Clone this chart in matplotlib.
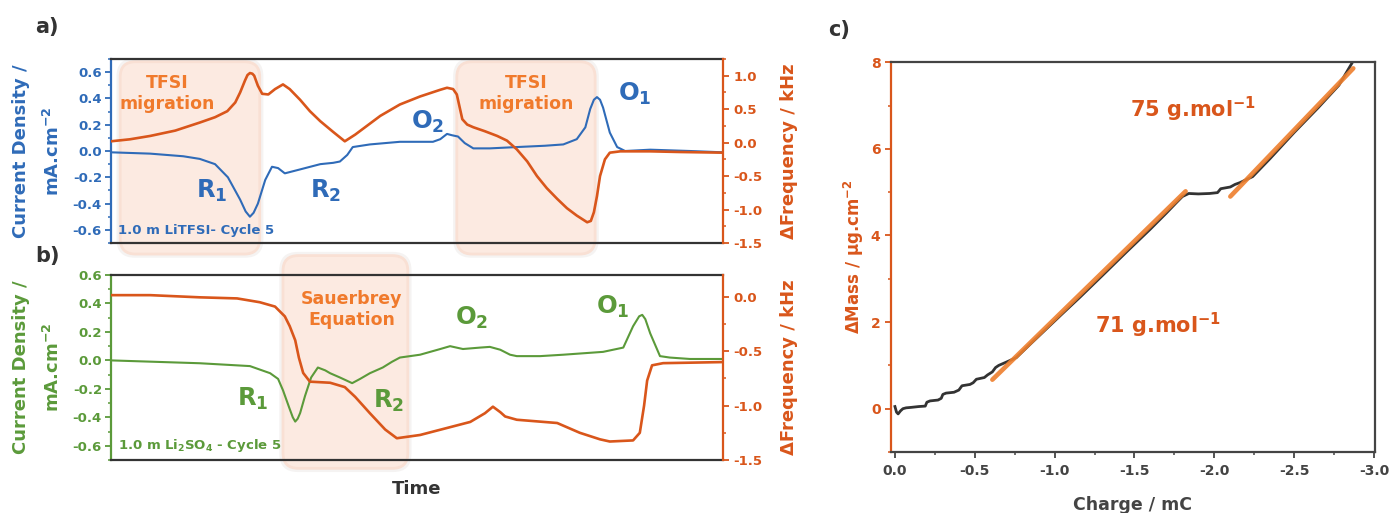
import matplotlib
matplotlib.use('Agg')
import matplotlib.pyplot as plt
import matplotlib.transforms as mtransforms
from matplotlib.patches import FancyBboxPatch
from matplotlib.ticker import MultipleLocator, FormatStrFormatter

plt.rcParams['font.family'] = 'DejaVu Sans'
plt.rcParams['font.weight'] = 'bold'
plt.rcParams['axes.labelweight'] = 'bold'
plt.rcParams['mathtext.default'] = 'bf'
plt.rcParams['axes.unicode_minus'] = False

# ---- panel a : 1.0 m LiTFSI (time in arbitrary units 0-100)
t_a_cur = [0.0, 6.4, 11.8, 14.5, 17.0, 19.1, 21.1, 22.0, 22.7, 23.3, 24.0, 25.2, 26.3, 27.3, 28.4, 30.9,
           34.2, 36.3, 37.4, 38.6, 39.5, 42.3, 47.2, 52.6, 53.8, 54.9, 55.7, 56.7, 57.8, 59.2,
           61.9, 66.3, 70.9, 73.9, 76.1, 77.5, 78.3, 78.9, 79.4, 79.9, 80.4, 81.5, 82.7, 84.0, 88.1, 94.6, 100]
j_a = [-0.01, -0.02, -0.04, -0.06, -0.10, -0.20, -0.37, -0.46, -0.50, -0.47, -0.40, -0.22, -0.12, -0.13, -0.17, -0.14,
       -0.10, -0.09, -0.08, -0.03, 0.03, 0.05, 0.07, 0.07, 0.09, 0.13, 0.12, 0.11, 0.06, 0.02,
       0.02, 0.03, 0.04, 0.05, 0.09, 0.18, 0.32, 0.39, 0.41, 0.39, 0.33, 0.14, 0.03, 0.00, 0.01, 0.00, -0.01]

t_a_freq = [0.0, 3.1, 6.4, 10.5, 14.5, 17.0, 19.0, 20.3, 21.1, 21.9, 22.3, 22.7, 23.1, 23.4, 24.0, 24.7, 25.7,
            26.8, 28.1, 29.2, 30.9, 32.5, 34.2, 36.3, 38.2, 39.9, 44.0, 47.2, 50.5, 53.8, 54.9,
            55.9, 56.5, 57.4, 58.2, 59.2, 61.1, 63.1, 64.7, 66.3, 68.0, 69.6, 71.2, 72.9, 74.5,
            76.1, 77.8, 78.4, 78.9, 79.4, 79.9, 80.7, 81.5, 83.2, 88.1, 93.0, 100]
f_a = [0.02, 0.05, 0.10, 0.18, 0.30, 0.38, 0.47, 0.60, 0.75, 0.93, 1.01, 1.04, 1.03, 1.00, 0.85, 0.73, 0.72,
       0.80, 0.87, 0.80, 0.64, 0.47, 0.32, 0.16, 0.02, 0.12, 0.40, 0.57, 0.69, 0.79, 0.82,
       0.80, 0.72, 0.35, 0.27, 0.23, 0.17, 0.10, 0.03, -0.10, -0.28, -0.50, -0.68, -0.84, -0.98,
       -1.09, -1.19, -1.17, -1.04, -0.80, -0.50, -0.25, -0.15, -0.13, -0.13, -0.14, -0.15]

# ---- panel b : 1.0 m Li2SO4
t_b_cur = [0.0, 14.5, 22.7, 26.0, 27.3, 28.1, 29.1, 29.7, 30.1, 30.5, 30.9, 31.7, 32.7, 33.8, 35.0, 35.8,
           37.4, 39.4, 40.7, 42.3, 44.4, 45.9, 47.2, 50.5, 53.8, 55.4, 57.5, 60.3, 61.9, 63.6,
           65.2, 66.3, 70.1, 73.9, 80.4, 83.7, 85.3, 86.3, 86.8, 87.3, 88.1, 89.7, 91.3, 94.6, 100]
j_b = [0.0, -0.02, -0.04, -0.09, -0.13, -0.21, -0.33, -0.40, -0.43, -0.41, -0.37, -0.25, -0.12, -0.05, -0.07, -0.09,
       -0.12, -0.16, -0.13, -0.09, -0.05, -0.01, 0.02, 0.04, 0.08, 0.10, 0.08, 0.09, 0.095, 0.075,
       0.04, 0.03, 0.03, 0.04, 0.06, 0.09, 0.24, 0.31, 0.32, 0.29, 0.19, 0.03, 0.02, 0.01, 0.01]

t_b_freq = [0.0, 6.4, 14.5, 20.6, 24.3, 26.8, 28.4, 29.2, 30.1, 30.7, 31.4, 32.5, 35.8, 38.2,
            39.9, 42.3, 44.8, 46.7, 50.5, 54.6, 58.7, 61.1, 62.4, 63.6, 64.4, 66.3, 72.9, 76.6,
            79.9, 81.5, 85.3, 86.4, 87.1, 87.6, 88.4, 90.2, 100]
f_b = [0.015, 0.015, -0.005, -0.015, -0.05, -0.09, -0.18, -0.27, -0.40, -0.56, -0.70, -0.78, -0.79, -0.83,
       -0.92, -1.07, -1.22, -1.30, -1.27, -1.21, -1.15, -1.07, -1.01, -1.06, -1.10, -1.13, -1.16, -1.25,
       -1.31, -1.33, -1.32, -1.25, -1.00, -0.77, -0.63, -0.61, -0.60]

# ---- panel c : mass vs charge
q_c = [0.0, -0.01, -0.02, -0.035, -0.05, -0.07, -0.10, -0.15, -0.19, -0.20, -0.22, -0.27, -0.29, -0.30,
       -0.32, -0.37, -0.40, -0.42, -0.47, -0.49, -0.51, -0.56, -0.58, -0.61, -0.63, -0.65, -0.70,
       -0.76, -0.85, -0.95, -1.05, -1.16, -1.30, -1.45, -1.60, -1.70, -1.76, -1.80, -1.84, -1.90,
       -1.97, -2.02, -2.04, -2.10, -2.13, -2.16, -2.24, -2.35, -2.50, -2.65, -2.78, -2.86]
m_c = [0.05, -0.08, -0.12, -0.05, 0.0, 0.02, 0.03, 0.05, 0.06, 0.15, 0.18, 0.20, 0.24, 0.33,
       0.36, 0.38, 0.43, 0.53, 0.56, 0.60, 0.68, 0.72, 0.78, 0.85, 0.95, 1.00, 1.08,
       1.18, 1.50, 1.85, 2.20, 2.58, 3.08, 3.62, 4.15, 4.52, 4.75, 4.90, 4.97, 4.96,
       4.97, 4.99, 5.08, 5.12, 5.18, 5.22, 5.36, 5.78, 6.38, 6.95, 7.47, 7.97]
fit1_q = [-0.61, -1.82]
fit1_m = [0.67, 5.02]
fit2_q = [-2.10, -2.87]
fit2_m = [4.90, 7.86]

# highlighted time windows (start, end)
win_a = [(1.5, 24.3), (56.5, 79.1)]
win_b = [(28.1, 48.5)]

blue = '#2F6BB8'
green = '#5B9A3A'
orange = '#D9561B'
orange_txt = '#F07A2C'
dark = '#333333'

fig = plt.figure(figsize=(13.91, 5.13), dpi=100)
ax_a = fig.add_axes([0.0798, 0.5263, 0.44, 0.3587])
ax_b = fig.add_axes([0.0798, 0.1033, 0.44, 0.3606])
ax_c = fig.add_axes([0.6405, 0.1189, 0.348, 0.7597])


def shade(ax, t0, t1, y0, y1):
    trans = mtransforms.blended_transform_factory(ax.transData, ax.transAxes)
    asp = (ax.bbox.width / 100.0) / ax.bbox.height
    glow = FancyBboxPatch((t0 - 0.6, y0 - 0.02), t1 - t0 + 1.2, y1 - y0 + 0.04,
                          boxstyle='round,pad=0,rounding_size=3', mutation_aspect=asp,
                          transform=trans, facecolor='#F5F3F2', edgecolor='none',
                          clip_on=False, zorder=0)
    box = FancyBboxPatch((t0, y0), t1 - t0, y1 - y0,
                         boxstyle='round,pad=0,rounding_size=2.5', mutation_aspect=asp,
                         transform=trans, facecolor='#FCEAE1', edgecolor='#F9E0D4', lw=2,
                         clip_on=False, zorder=0)
    ax.add_patch(glow)
    ax.add_patch(box)


def style_ab(ax, ax2, col):
    ax.set_facecolor('none')
    ax.set_xlim(0, 100)
    ax.tick_params(axis='x', bottom=False, labelbottom=False)
    for s in ['top', 'bottom']:
        ax.spines[s].set_color(dark)
        ax.spines[s].set_linewidth(1.6)
    ax.spines['left'].set_color(col)
    ax.spines['left'].set_linewidth(1.6)
    ax.spines['right'].set_visible(False)
    ax.yaxis.set_major_locator(MultipleLocator(0.2))
    ax.yaxis.set_minor_locator(MultipleLocator(0.1))
    ax.yaxis.set_major_formatter(FormatStrFormatter('%.1f'))
    ax.tick_params(axis='y', which='major', direction='out', length=4.5, width=1.3,
                   colors=col, labelsize=9.5, pad=2)
    ax.tick_params(axis='y', which='minor', direction='out', length=2.5, width=1.1, colors=col)
    for s in ['top', 'bottom', 'left']:
        ax2.spines[s].set_visible(False)
    ax2.spines['right'].set_color(orange)
    ax2.spines['right'].set_linewidth(1.6)
    ax2.yaxis.set_major_locator(MultipleLocator(0.5))
    ax2.yaxis.set_minor_locator(MultipleLocator(0.25))
    ax2.yaxis.set_major_formatter(FormatStrFormatter('%.1f'))
    ax2.tick_params(axis='y', which='major', direction='out', length=4.5, width=1.3,
                    colors=orange, labelsize=9.5, pad=3)
    ax2.tick_params(axis='y', which='minor', direction='out', length=2.5, width=1.1, colors=orange)


# ---- a)
ax_a2 = ax_a.twinx()
style_ab(ax_a, ax_a2, blue)
ax_a.set_ylim(-0.7, 0.7)
ax_a2.set_ylim(-1.5, 1.25)
for t0, t1 in win_a:
    shade(ax_a, t0, t1, -0.06, 0.985)
ax_a.plot(t_a_cur, j_a, color=blue, lw=1.5, zorder=3)
ax_a2.plot(t_a_freq, f_a, color=orange, lw=1.9)

ax_a.text(9.2, 0.436, 'TFSI\nmigration', color=orange_txt, fontsize=12.5, ha='center', va='center')
ax_a.text(67.8, 0.436, 'TFSI\nmigration', color=orange_txt, fontsize=12.5, ha='center', va='center')
ax_a.text(16.4, -0.307, 'R$_1$', color=blue, fontsize=17.5, ha='center', va='center')
ax_a.text(35.0, -0.307, 'R$_2$', color=blue, fontsize=17.5, ha='center', va='center')
ax_a.text(51.7, 0.223, 'O$_2$', color=blue, fontsize=17.5, ha='center', va='center')
ax_a.text(85.6, 0.433, 'O$_1$', color=blue, fontsize=17.5, ha='center', va='center')
ax_a.text(1.1, -0.605, '1.0 m LiTFSI- Cycle 5', color=blue, fontsize=9.5, ha='left', va='center')

ax_a.set_ylabel('Current Density /\nmA.cm$^{-2}$', color=blue, fontsize=13, linespacing=1.8)
ax_a.yaxis.set_label_coords(-0.078, 0.5)
ax_a2.set_ylabel('ΔFrequency / kHz', color=orange, fontsize=13)
ax_a2.yaxis.set_label_coords(1.093, 0.5)

# ---- b)
ax_b2 = ax_b.twinx()
style_ab(ax_b, ax_b2, green)
ax_b.set_ylim(-0.7, 0.6)
ax_b2.set_ylim(-1.5, 0.2)
for t0, t1 in win_b:
    shade(ax_b, t0, t1, -0.045, 1.105)
ax_b.plot(t_b_cur, j_b, color=green, lw=1.5, zorder=3)
ax_b2.plot(t_b_freq, f_b, color=orange, lw=1.9)

ax_b.text(39.3, 0.358, 'Sauerbrey\nEquation', color=orange_txt, fontsize=12.5, ha='center', va='center')
ax_b.text(23.1, -0.27, 'R$_1$', color=green, fontsize=17.5, ha='center', va='center')
ax_b.text(45.4, -0.284, 'R$_2$', color=green, fontsize=17.5, ha='center', va='center')
ax_b.text(58.9, 0.30, 'O$_2$', color=green, fontsize=17.5, ha='center', va='center')
ax_b.text(81.9, 0.375, 'O$_1$', color=green, fontsize=17.5, ha='center', va='center')
ax_b.text(1.1, -0.595, '1.0 m Li$_2$SO$_4$ - Cycle 5', color=green, fontsize=9.5, ha='left', va='center')

ax_b.set_ylabel('Current Density /\nmA.cm$^{-2}$', color=green, fontsize=13, linespacing=1.8)
ax_b.yaxis.set_label_coords(-0.078, 0.5)
ax_b2.set_ylabel('ΔFrequency / kHz', color=orange, fontsize=13)
ax_b2.yaxis.set_label_coords(1.093, 0.5)
ax_b.set_xlabel('Time', color=dark, fontsize=13)
ax_b.xaxis.set_label_coords(0.5, -0.108)

# ---- c)
ax_c.plot(q_c, m_c, color=dark, lw=2.0, zorder=2)
ax_c.plot(fit1_q, fit1_m, color='#EE7F2D', lw=3.3, alpha=0.9, solid_capstyle='round', zorder=3)
ax_c.plot(fit2_q, fit2_m, color='#EE7F2D', lw=3.3, alpha=0.9, solid_capstyle='round', zorder=3)
ax_c.set_xlim(0.025, -3.006)
ax_c.set_ylim(-1, 8)
ax_c.xaxis.set_major_locator(MultipleLocator(0.5))
ax_c.xaxis.set_minor_locator(MultipleLocator(0.25))
ax_c.xaxis.set_major_formatter(FormatStrFormatter('%.1f'))
ax_c.yaxis.set_major_locator(MultipleLocator(2))
ax_c.yaxis.set_minor_locator(MultipleLocator(1))
for s in ['top', 'bottom', 'right']:
    ax_c.spines[s].set_color('#444444')
    ax_c.spines[s].set_linewidth(1.6)
ax_c.spines['left'].set_color(orange)
ax_c.spines['left'].set_linewidth(1.6)
ax_c.tick_params(axis='x', which='major', direction='out', length=4.5, width=1.3,
                 colors='#444444', labelsize=10, pad=4)
ax_c.tick_params(axis='x', which='minor', direction='out', length=2.5, width=1.1, colors='#444444')
ax_c.tick_params(axis='y', which='major', direction='out', length=4.5, width=1.3,
                 colors=orange, labelsize=10, pad=3)
ax_c.tick_params(axis='y', which='minor', direction='out', length=2.5, width=1.1, colors=orange)
ax_c.set_xlabel('Charge / mC', color='#444444', fontsize=12.5)
ax_c.xaxis.set_label_coords(0.5, -0.113)
ax_c.set_ylabel('ΔMass / μg.cm$^{-2}$', color=orange, fontsize=12)
ax_c.yaxis.set_label_coords(-0.052, 0.5)
ax_c.text(-1.472, 6.92, '75 g.mol$^{-1}$', color=orange, fontsize=15, ha='left', va='center')
ax_c.text(-1.25, 1.92, '71 g.mol$^{-1}$', color=orange, fontsize=15, ha='left', va='center')

fig.text(35 / 1391, 1 - 27.5 / 513, 'a)', color=dark, fontsize=15, ha='left', va='center')
fig.text(35 / 1391, 1 - 256 / 513, 'b)', color=dark, fontsize=15, ha='left', va='center')
fig.text(828 / 1391, 1 - 30 / 513, 'c)', color=dark, fontsize=15, ha='left', va='center')

fig.savefig('out.png', dpi=100)
